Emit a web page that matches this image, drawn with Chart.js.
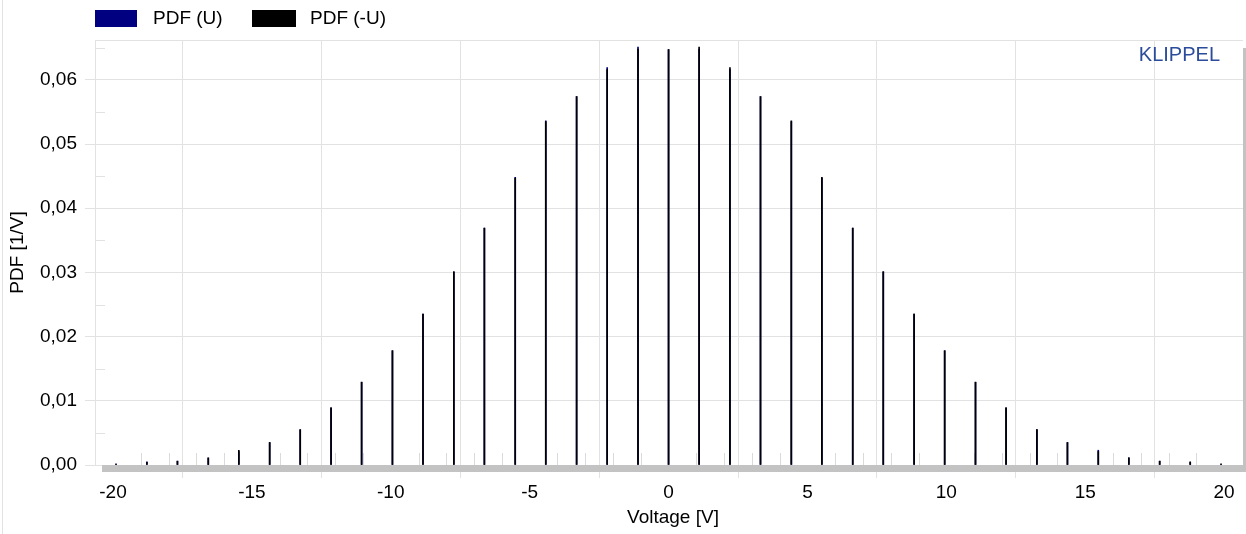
<!DOCTYPE html>
<html>
<head>
<meta charset="utf-8">
<script src="https://cdn.jsdelivr.net/npm/chart.js@4"></script>
<style>
  html, body { margin: 0; padding: 0; background: #fff; }
  #wrap { position: relative; width: 1246px; height: 534px; }
  #legend { position: absolute; left: 95px; top: 9px; font: 19px "Liberation Sans", Arial, sans-serif; color: #000; }
  #legend .item { position: absolute; top: 0; white-space: nowrap; }
  #legend .box { position: absolute; top: 1px; height: 17px; }
  #legend .txt { position: absolute; top: -2px; }
</style>
</head>
<body>
<div id="wrap">
  <canvas id="pdfChart"></canvas>
  <div id="legend">
    <div class="item" style="left:0"><span class="box" style="left:0;width:42px;background:#000080"></span><span class="txt" style="left:58px">PDF (U)</span></div>
    <div class="item" style="left:157px"><span class="box" style="left:0;width:44px;background:#000"></span><span class="txt" style="left:58px">PDF (-U)</span></div>
  </div>
</div>
<script>
(function() {
  var fontFamily = '"Liberation Sans", Arial, sans-serif';
  var gridColor = '#e2e2e2';

  /* bin centres [V] */
  var volts = [-19.89, -18.78, -17.68, -16.57, -15.47, -14.36, -13.26, -12.15, -11.05, -9.94,
               -8.84, -7.73, -6.63, -5.52, -4.42, -3.31, -2.21, -1.10, 0,
               1.10, 2.21, 3.31, 4.42, 5.52, 6.63, 7.73, 8.84, 9.94, 11.05,
               12.15, 13.26, 14.36, 15.47, 16.57, 17.68, 18.78, 19.89];

  /* PDF (U) [1/V] */
  var pdfU = [0.0002, 0.0005, 0.0006, 0.0011, 0.0021, 0.0035, 0.0055, 0.0089, 0.0129, 0.0178,
              0.0235, 0.0301, 0.0369, 0.0448, 0.0536, 0.0574, 0.0619, 0.0651, 0.0647,
              0.0648, 0.0616, 0.0574, 0.0535, 0.0447, 0.0369, 0.0301, 0.0235, 0.0178, 0.0129,
              0.0089, 0.0055, 0.0035, 0.0023, 0.0011, 0.0006, 0.0004, 0.0001];

  /* PDF (-U) [1/V] */
  var pdfNegU = [0.0001, 0.0004, 0.0006, 0.0011, 0.0023, 0.0035, 0.0055, 0.0089, 0.0129, 0.0178,
                 0.0235, 0.0301, 0.0369, 0.0447, 0.0535, 0.0574, 0.0616, 0.0648, 0.0647,
                 0.0651, 0.0619, 0.0574, 0.0536, 0.0448, 0.0369, 0.0301, 0.0235, 0.0178, 0.0129,
                 0.0089, 0.0055, 0.0035, 0.0021, 0.0011, 0.0006, 0.0005, 0.0002];

  var xMajorStep = 5;
  var yMajorStep = 0.01;

  function toPoints(ys) {
    return volts.map(function(v, i) { return { x: v, y: ys[i] }; });
  }

  /* frame, minor ticks, grey bottom/right bars and the KLIPPEL mark */
  var decoPlugin = {
    id: 'klippelDeco',
    beforeDatasetsDraw: function(chart) {
      var c = chart.ctx;
      var a = chart.chartArea;
      var xs = chart.scales.x;
      var ys = chart.scales.y;
      c.save();
      c.strokeStyle = gridColor;
      c.lineWidth = 1;
      /* outer left edge */
      c.beginPath();
      c.moveTo(2.5, 0); c.lineTo(2.5, 534);
      c.stroke();
      /* frame left + top */
      c.beginPath();
      c.moveTo(95.5, a.top); c.lineTo(95.5, a.bottom);
      c.moveTo(95, a.top + 0.5); c.lineTo(a.right, a.top + 0.5);
      c.stroke();
      /* y minor ticks */
      c.beginPath();
      for (var v = 0.005; v < ys.max; v += yMajorStep) {
        var py = Math.round(ys.getPixelForValue(v)) + 0.5;
        c.moveTo(95, py); c.lineTo(105, py);
      }
      c.stroke();
      /* x minor ticks */
      c.strokeStyle = '#dadada';
      c.beginPath();
      for (var k = Math.ceil(xs.min); k <= Math.floor(xs.max); k++) {
        if (k % xMajorStep === 0) continue;
        var px = Math.round(xs.getPixelForValue(k)) + 0.5;
        c.moveTo(px, a.bottom - 12); c.lineTo(px, a.bottom);
      }
      c.stroke();
      /* grey bars */
      c.fillStyle = '#c3c3c3';
      c.fillRect(102, a.bottom, 1246 - 102, 7);
      c.fillRect(a.right, 48, 1246 - a.right, a.bottom - 48 + 7);
      /* brand */
      c.fillStyle = '#2b4c9b';
      c.font = '20px ' + fontFamily;
      c.textAlign = 'right';
      c.textBaseline = 'middle';
      c.fillText('KLIPPEL', 1220, 55);
      c.restore();
    }
  };

  new Chart(document.getElementById('pdfChart'), {
    type: 'bar',
    data: {
      datasets: [
        {
          label: 'PDF (U)',
          data: toPoints(pdfU),
          backgroundColor: '#000080',
          borderWidth: 0,
          barThickness: 1,
          order: 1
        },
        {
          label: 'PDF (-U)',
          data: toPoints(pdfNegU),
          backgroundColor: '#000000',
          borderWidth: 0,
          barThickness: 1,
          order: 0
        }
      ]
    },
    options: {
      responsive: true,
      maintainAspectRatio: false,
      animation: false,
      layout: { padding: { left: 0, top: 40, right: 3, bottom: 0 } },
      datasets: { bar: { grouped: false } },
      plugins: {
        legend: { display: false },
        tooltip: { enabled: false }
      },
      scales: {
        x: {
          type: 'linear',
          min: -20.36,
          max: 20.68,
          offset: false,
          afterFit: function(scale) { scale.height = 69; },
          afterBuildTicks: function(scale) {
            scale.ticks = scale.ticks.filter(function(t) { return Math.abs(t.value % xMajorStep) < 1e-6; });
          },
          grid: { color: gridColor, tickColor: gridColor, tickLength: 13, drawOnChartArea: true },
          border: { display: false },
          ticks: {
            stepSize: xMajorStep,
            includeBounds: false,
            padding: 3,
            color: '#000',
            font: { size: 19, family: fontFamily },
            maxRotation: 0,
            callback: function(v) { return String(v); }
          },
          title: {
            display: true,
            text: 'Voltage [V]',
            color: '#000',
            font: { size: 19, family: fontFamily },
            padding: { top: 0, bottom: 5 }
          }
        },
        y: {
          min: 0,
          max: 0.0662,
          afterFit: function(scale) { scale.width = 103; },
          grid: { color: gridColor, tickColor: gridColor, tickLength: 18 },
          border: { display: false },
          ticks: {
            stepSize: yMajorStep,
            includeBounds: false,
            padding: 8,
            color: '#000',
            font: { size: 19, family: fontFamily },
            callback: function(v) { return v.toFixed(2).replace('.', ','); }
          },
          title: {
            display: true,
            text: 'PDF [1/V]',
            color: '#000',
            font: { size: 19, family: fontFamily },
            padding: { top: 6, bottom: 0 }
          }
        }
      }
    },
    plugins: [decoPlugin]
  });
})();
</script>
</body>
</html>
